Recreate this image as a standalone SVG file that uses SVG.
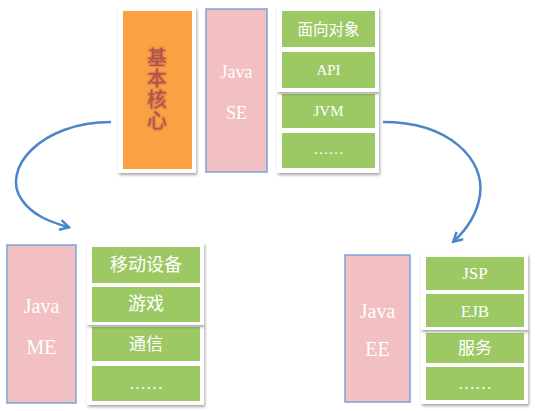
<svg xmlns="http://www.w3.org/2000/svg" width="535" height="411" viewBox="0 0 535 411">
<defs>
<filter id="sh" x="-20%" y="-20%" width="140%" height="140%">
<feDropShadow dx="1" dy="2" stdDeviation="1.5" flood-color="#000" flood-opacity="0.35"/>
</filter>
<filter id="ts" x="-30%" y="-30%" width="160%" height="160%">
<feDropShadow dx="0" dy="0" stdDeviation="0.8" flood-color="#555" flood-opacity="0.9"/>
</filter>
<marker id="ah" viewBox="0 0 12 12" refX="9" refY="6" markerWidth="12" markerHeight="12" markerUnits="userSpaceOnUse" orient="auto">
<path d="M1,1 L10,6 L1,11" fill="none" stroke="#4a86c8" stroke-width="2.5" stroke-linejoin="miter"/>
</marker>
</defs>
<style>
.card{fill:#fff;filter:url(#sh)}
.pink{fill:#f2c0c2;stroke:#7ba3d6;stroke-width:1.5}
.green{fill:#9dc964}
.wt{fill:#fff;font-family:"Liberation Serif","Noto Sans CJK SC",serif;text-anchor:middle;dominant-baseline:central}
.jt{fill:#fff;font-family:"Liberation Serif",serif;text-anchor:middle;dominant-baseline:central}
.conn{fill:none;stroke:#4a86c8;stroke-width:2.5}
</style>
<rect width="535" height="411" fill="#fff"/>

<g id="core">
<rect class="card" x="118" y="7" width="78" height="166"/>
<rect x="123" y="11" width="69" height="158" fill="#fba043"/>
<text x="157" y="89" filter="url(#ts)" fill="#c8474c" font-family="Noto Sans CJK SC,sans-serif" font-size="20" letter-spacing="1" text-anchor="middle" writing-mode="vertical-rl">基本核心</text>
</g>

<g id="se">
<rect class="pink" x="206" y="9" width="61" height="163"/>
<text class="jt" x="236.5" y="72" font-size="18">Java</text>
<text class="jt" x="236.5" y="113" font-size="18">SE</text>
</g>

<g id="se-list">
<rect class="card" x="277" y="92" width="102" height="81"/>
<rect class="green" x="282" y="94" width="93" height="34"/>
<text class="wt" x="328.5" y="111" font-size="15">JVM</text>
<rect class="green" x="282" y="133" width="93" height="35"/>
<text class="wt" x="328.5" y="149" font-size="15">……</text>
<rect class="card" x="277" y="7" width="102" height="85"/>
<rect class="green" x="282" y="11" width="93" height="36"/>
<text class="wt" x="328.5" y="29" font-size="15.5">面向对象</text>
<rect class="green" x="282" y="52" width="93" height="36"/>
<text class="wt" x="328.5" y="70" font-size="15">API</text>
</g>

<g id="me">
<rect class="pink" x="7" y="245" width="69" height="158"/>
<text class="jt" x="41.5" y="306" font-size="20">Java</text>
<text class="jt" x="41.5" y="347" font-size="20">ME</text>
</g>

<g id="me-list">
<rect class="card" x="87" y="324" width="117" height="81"/>
<rect class="green" x="92" y="327" width="108" height="34"/>
<text class="wt" x="146" y="344" font-size="17">通信</text>
<rect class="green" x="92" y="366" width="108" height="35"/>
<text class="wt" x="146" y="383" font-size="17">……</text>
<rect class="card" x="87" y="243" width="117" height="82"/>
<rect class="green" x="92" y="247" width="108" height="36"/>
<text class="wt" x="146" y="265" font-size="18">移动设备</text>
<rect class="green" x="92" y="287" width="108" height="35"/>
<text class="wt" x="146" y="304" font-size="18">游戏</text>
</g>

<g id="ee">
<rect class="pink" x="345" y="255" width="65" height="147"/>
<text class="jt" x="377.5" y="311" font-size="20">Java</text>
<text class="jt" x="377.5" y="349" font-size="20">EE</text>
</g>

<g id="ee-list">
<rect class="card" x="421" y="329" width="107" height="75"/>
<rect class="green" x="426" y="333" width="98" height="30"/>
<text class="wt" x="475" y="348" font-size="17">服务</text>
<rect class="green" x="426" y="367" width="98" height="33"/>
<text class="wt" x="475" y="383" font-size="17">……</text>
<rect class="card" x="421" y="254" width="107" height="76"/>
<rect class="green" x="426" y="257" width="98" height="33"/>
<text class="wt" x="475" y="273" font-size="17">JSP</text>
<rect class="green" x="426" y="294" width="98" height="33"/>
<text class="wt" x="475" y="311" font-size="17">EJB</text>
</g>

<g id="connectors">
<path class="conn" d="M111,122 C40,122 0,170 22,200 C32,215 50,222 68,227" marker-end="url(#ah)"/>
<path class="conn" d="M383,122 C450,122 485,160 480,195 C477,215 466,230 454,241" marker-end="url(#ah)"/>
</g>
</svg>
